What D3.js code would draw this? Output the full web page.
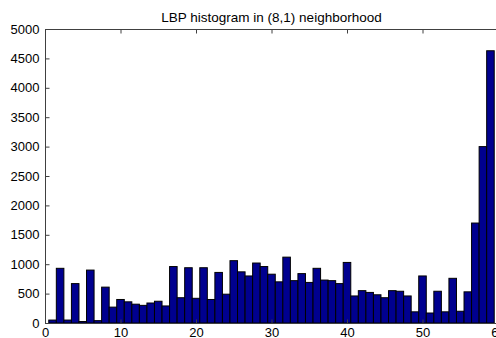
<!DOCTYPE html>
<html>
<head>
<meta charset="utf-8">
<script src="https://cdn.jsdelivr.net/npm/d3@7"></script>
<style>
  html, body { margin: 0; padding: 0; background: #fff; }
  svg { display: block; }
  text { font-family: Arial, "Liberation Sans", Helvetica, sans-serif; fill: #000; }
</style>
</head>
<body>
<svg id="chart" width="496" height="338"></svg>
<script>
const title = "LBP histogram in (8,1) neighborhood";
const bins = d3.range(1, 60);
const counts = [50,930,50,670,25,900,40,610,270,400,360,320,300,340,370,290,
  960,430,940,420,940,400,860,490,1060,870,800,1020,960,830,700,1120,
  720,840,690,930,730,720,670,1030,460,550,520,480,430,550,540,460,
  190,800,170,540,190,760,200,530,1700,3000,4630];
const xTicks = [0,10,20,30,40,50,60];
const yTicks = d3.range(0, 5001, 500);

const W = 496, H = 338;
const m = {left: 45, right: 498, top: 29, bottom: 323};
const svg = d3.select("#chart");

const x = d3.scaleLinear().domain([0, 60]).range([m.left, m.right]);
const y = d3.scaleLinear().domain([0, 5000]).range([m.bottom, m.top]);

const bw = x(1) - x(0);

svg.append("g").selectAll("rect").data(bins).join("rect")
  .attr("x", (d) => x(d - 0.5))
  .attr("width", bw)
  .attr("y", (d, i) => y(counts[i]))
  .attr("height", (d, i) => y(0) - y(counts[i]))
  .attr("fill", "#00008f")
  .attr("stroke", "#000")
  .attr("stroke-width", 1);

const axisColor = "#404040";
// Box
svg.append("line").attr("x1", m.left).attr("x2", W).attr("y1", m.top + 0.5).attr("y2", m.top + 0.5)
  .attr("stroke", axisColor);
svg.append("line").attr("x1", m.left).attr("x2", W).attr("y1", m.bottom + 0.5).attr("y2", m.bottom + 0.5)
  .attr("stroke", axisColor);
svg.append("line").attr("x1", m.left + 0.5).attr("x2", m.left + 0.5).attr("y1", m.top).attr("y2", m.bottom)
  .attr("stroke", axisColor);

const fmt = d3.format("d");

// Bottom axis (ticks inward)
const xb = svg.append("g").attr("transform", `translate(0,${m.bottom + 0.5})`)
  .call(d3.axisBottom(x).tickValues(xTicks).tickFormat(fmt).tickSizeInner(-4).tickSizeOuter(0).tickPadding(4));
xb.select(".domain").remove();
xb.selectAll("line").attr("stroke", axisColor);
xb.selectAll("text").style("font-size", "13px").attr("fill", "#000");

// Top ticks
const xt = svg.append("g").attr("transform", `translate(0,${m.top + 0.5})`)
  .call(d3.axisTop(x).tickValues(xTicks).tickSizeInner(-4).tickSizeOuter(0).tickFormat(""));
xt.select(".domain").remove();
xt.selectAll("line").attr("stroke", axisColor);

// Left axis
const yl = svg.append("g").attr("transform", `translate(${m.left + 0.5},0)`)
  .call(d3.axisLeft(y).tickValues(yTicks).tickFormat(fmt).tickSizeInner(-4).tickSizeOuter(0).tickPadding(6));
yl.select(".domain").remove();
yl.selectAll("line").attr("stroke", axisColor);
yl.selectAll("text").style("font-size", "13px").attr("fill", "#000");

svg.append("text")
  .attr("x", (m.left + m.right) / 2)
  .attr("y", 22)
  .attr("text-anchor", "middle")
  .style("font-size", "13.5px")
  .text(title);
</script>
</body>
</html>
